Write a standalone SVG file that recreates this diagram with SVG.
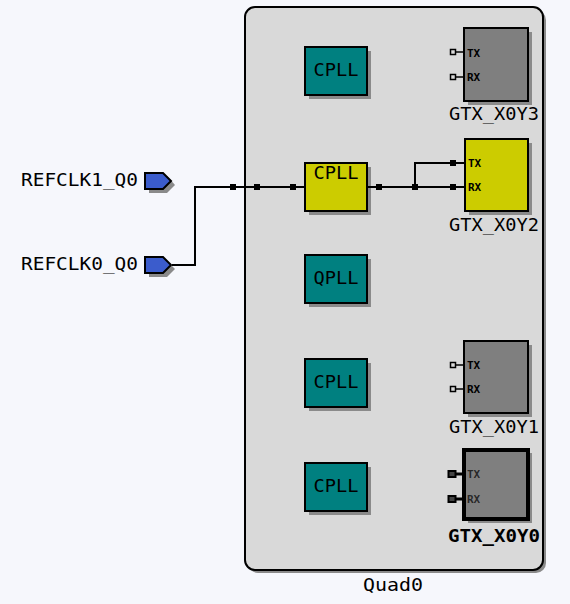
<svg xmlns="http://www.w3.org/2000/svg" width="570" height="604" viewBox="0 0 570 604">
<defs>
<style>
.t{font-family:"DejaVu Sans Mono","Liberation Mono",monospace;font-size:17px;fill:#000;dominant-baseline:central}
.s{font-family:"DejaVu Sans Mono","Liberation Mono",monospace;font-size:11px;font-weight:bold;fill:#000;dominant-baseline:central}
.sh{fill:#8a8a8a}
.teal{fill:#008080;stroke:#000;stroke-width:2}
.yel{fill:#cccc00;stroke:#000;stroke-width:2}
.gray{fill:#7f7f7f;stroke:#000;stroke-width:2}
.port{fill:#3b5ccc;stroke:#000;stroke-width:2}
.w{fill:none;stroke:#000;stroke-width:2}
.pin{fill:none;stroke:#000;stroke-width:1.5}
</style>
</defs>
<rect width="570" height="604" fill="#f6f7fc"/>
<g id="quad0">
<rect x="248" y="10" width="298" height="563" rx="10" class="sh"/>
<rect x="245" y="7" width="298" height="563" rx="10" fill="#d9d9d9" stroke="#000" stroke-width="2"/>
<text class="t" x="393" y="585" text-anchor="middle" textLength="60" lengthAdjust="spacingAndGlyphs">Quad0</text>
</g>
<g id="refclk1">
<path d="M149,176 H167 L175,185 L167,193 H149 Z" class="sh"/>
<path d="M145,173 H163 L171,181 L163,189 H145 Z" class="port"/>
<text class="t" x="21" y="180" textLength="117" lengthAdjust="spacingAndGlyphs">REFCLK1_Q0</text>
</g>
<g id="refclk0">
<path d="M149,261 H167 L175,269 L167,277 H149 Z" class="sh"/>
<path d="M145,257 H163 L171,265 L163,273 H145 Z" class="port"/>
<text class="t" x="21" y="264" textLength="117" lengthAdjust="spacingAndGlyphs">REFCLK0_Q0</text>
</g>
<g id="cpll3">
<rect x="309" y="51" width="62" height="48" class="sh"/>
<rect x="305" y="47" width="62" height="48" class="teal"/>
<text class="t" x="336" y="70" text-anchor="middle" textLength="45" lengthAdjust="spacingAndGlyphs">CPLL</text>
</g>
<g id="cpll2">
<rect x="309" y="167" width="62" height="48" class="sh"/>
<rect x="305" y="163" width="62" height="48" class="yel"/>
<text class="t" x="336" y="173" text-anchor="middle" textLength="45" lengthAdjust="spacingAndGlyphs">CPLL</text>
</g>
<g id="qpll">
<rect x="309" y="259" width="62" height="48" class="sh"/>
<rect x="305" y="255" width="62" height="48" class="teal"/>
<text class="t" x="336" y="278" text-anchor="middle" textLength="45" lengthAdjust="spacingAndGlyphs">QPLL</text>
</g>
<g id="cpll1">
<rect x="309" y="363" width="62" height="48" class="sh"/>
<rect x="305" y="359" width="62" height="48" class="teal"/>
<text class="t" x="336" y="382" text-anchor="middle" textLength="45" lengthAdjust="spacingAndGlyphs">CPLL</text>
</g>
<g id="cpll0">
<rect x="309" y="467" width="62" height="48" class="sh"/>
<rect x="305" y="463" width="62" height="48" class="teal"/>
<text class="t" x="336" y="486" text-anchor="middle" textLength="45" lengthAdjust="spacingAndGlyphs">CPLL</text>
</g>
<g id="gtx_x0y3">
<rect x="468" y="32" width="64" height="73" class="sh"/>
<rect x="464" y="28" width="64" height="73" class="gray"/>
<line x1="455" y1="52" x2="464" y2="52" class="pin"/>
<rect x="450.5" y="49.5" width="5" height="5" class="pin" fill="#fff"/>
<line x1="455" y1="77" x2="464" y2="77" class="pin"/>
<rect x="450.5" y="74.5" width="5" height="5" class="pin" fill="#fff"/>
<text class="s" x="467" y="53">TX</text>
<text class="s" x="467" y="77">RX</text>
<text class="t" x="494" y="114" text-anchor="middle" textLength="90" lengthAdjust="spacingAndGlyphs">GTX_X0Y3</text>
</g>
<g id="gtx_x0y2">
<rect x="469" y="143" width="63" height="72" class="sh"/>
<rect x="465" y="139" width="63" height="72" class="yel"/>
<line x1="452" y1="163" x2="465" y2="163" class="w"/>
<rect x="450" y="160" width="6" height="6" fill="#000"/>
<line x1="452" y1="187" x2="465" y2="187" class="w"/>
<rect x="450" y="184" width="6" height="6" fill="#000"/>
<text class="s" x="468" y="163">TX</text>
<text class="s" x="468" y="187">RX</text>
<text class="t" x="494" y="225" text-anchor="middle" textLength="90" lengthAdjust="spacingAndGlyphs">GTX_X0Y2</text>
</g>
<g id="gtx_x0y1">
<rect x="468" y="345" width="64" height="72" class="sh"/>
<rect x="464" y="341" width="64" height="72" class="gray"/>
<line x1="455" y1="365" x2="464" y2="365" class="pin"/>
<rect x="450.5" y="362.5" width="5" height="5" class="pin" fill="#fff"/>
<line x1="455" y1="389" x2="464" y2="389" class="pin"/>
<rect x="450.5" y="386.5" width="5" height="5" class="pin" fill="#fff"/>
<text class="s" x="467" y="365">TX</text>
<text class="s" x="467" y="389">RX</text>
<text class="t" x="494" y="427" text-anchor="middle" textLength="90" lengthAdjust="spacingAndGlyphs">GTX_X0Y1</text>
</g>
<g id="gtx_x0y0">
<rect x="468" y="453" width="64" height="70" class="sh"/>
<rect x="464" y="450" width="64" height="69" fill="#7f7f7f" stroke="#000" stroke-width="4"/>
<line x1="455" y1="474" x2="464" y2="474" stroke="#000" stroke-width="3"/>
<rect x="448.5" y="471" width="7" height="6" fill="#444" stroke="#000" stroke-width="2"/>
<line x1="455" y1="499" x2="464" y2="499" stroke="#000" stroke-width="3"/>
<rect x="448.5" y="496" width="7" height="6" fill="#444" stroke="#000" stroke-width="2"/>
<text class="s" x="467" y="474" fill-opacity="0.7">TX</text>
<text class="s" x="467" y="499" fill-opacity="0.7">RX</text>
<text class="t" x="494" y="536" text-anchor="middle" font-weight="bold" textLength="92" lengthAdjust="spacingAndGlyphs">GTX_X0Y0</text>
</g>
<g id="connectors">
<polyline points="172,265 195,265 195,187 305,187" class="w"/>
<polyline points="367,187 452,187" class="w"/>
<polyline points="415,187 415,163 452,163" class="w"/>
<rect x="230" y="184" width="6" height="6" fill="#000"/>
<rect x="254" y="184" width="6" height="6" fill="#000"/>
<rect x="290" y="184" width="6" height="6" fill="#000"/>
<rect x="376" y="184" width="6" height="6" fill="#000"/>
<rect x="412" y="184" width="6" height="6" fill="#000"/>
</g>
</svg>
